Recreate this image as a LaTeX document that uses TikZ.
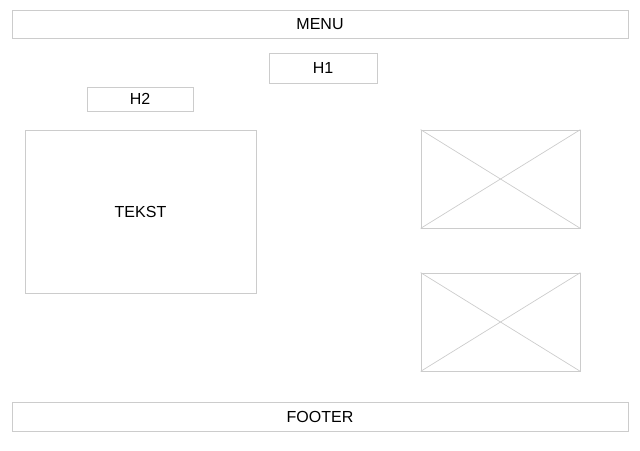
\documentclass[tikz,border=0pt]{standalone}
\usepackage{fontspec}
\setmainfont{Liberation Sans}
\tikzset{
    wirebox/.style={draw=black!20, line width=0.8pt, inner sep=0pt, font=\fontsize{16}{18}\selectfont},
    cross/.style={draw=black!20, line width=0.7pt}
}
\begin{document}
\begin{tikzpicture}[x=1pt, y=-1pt]
            \def \xleft     {12};
            \def \xright    {628};
            \def \xmid      {320};
            \def \ximg      {500.5};

            \def \ymenu     {24};
            \def \yhone     {68};
            \def \yhtwo     {99};
            \def \ytekst    {211.5};
            \def \yimgtop   {179};
            \def \yimgbot   {322};
            \def \yfooter   {416.5};

            \useasboundingbox (0,0) rectangle (640,450);
% bars
            \node [wirebox, minimum width=616pt, minimum height=28pt] (menu) at (\xmid, \ymenu) {MENU};
            \node [wirebox, minimum width=616pt, minimum height=29pt] (footer) at (\xmid, \yfooter) {FOOTER};
% headings
            \node [wirebox, minimum width=108pt, minimum height=30pt] (hone) at (323, \yhone) {H1};
            \node [wirebox, minimum width=106pt, minimum height=24pt] (htwo) at (140, \yhtwo) {H2};
% text block
            \node [wirebox, minimum width=231pt, minimum height=163pt] (tekst) at (140.5, \ytekst) {TEKST};
% images
            \node [wirebox, minimum width=159pt, minimum height=98pt] (imgtop) at (\ximg, \yimgtop) {};
            \node [wirebox, minimum width=159pt, minimum height=98pt] (imgbot) at (\ximg, \yimgbot) {};

            \draw [cross] (imgtop.north west) -- (imgtop.south east);
            \draw [cross] (imgtop.south west) -- (imgtop.north east);
            \draw [cross] (imgbot.north west) -- (imgbot.south east);
            \draw [cross] (imgbot.south west) -- (imgbot.north east);
\end{tikzpicture}
\end{document}
